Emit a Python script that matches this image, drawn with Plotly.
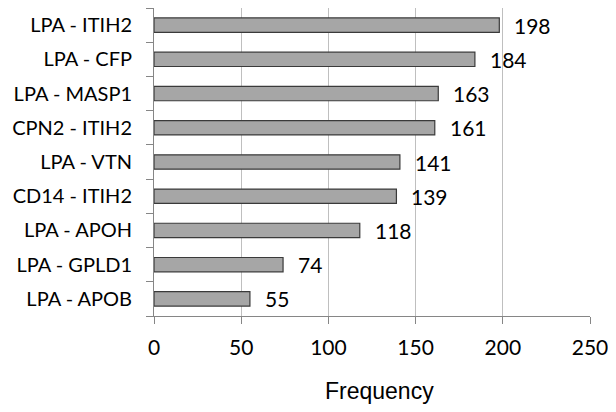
import plotly.graph_objects as go

pairs = ["LPA - ITIH2", "LPA - CFP", "LPA - MASP1", "CPN2 - ITIH2", "LPA - VTN",
         "CD14 - ITIH2", "LPA - APOH", "LPA - GPLD1", "LPA - APOB"]
frequency = [198, 184, 163, 161, 141, 139, 118, 74, 55]
x_ticks = [0, 50, 100, 150, 200, 250]

FONT = "Lato, 'Open Sans', sans-serif"

fig = go.Figure()
fig.add_trace(go.Bar(
    y=pairs, x=frequency, orientation="h",
    marker=dict(color="#a6a6a6", line=dict(color="#3a3a3a", width=1.2)),
    width=0.42, showlegend=False,
))
for p, v in zip(pairs, frequency):
    fig.add_annotation(x=v, y=p, text=str(v), showarrow=False, xanchor="left",
                       xshift=13, yshift=0, font=dict(family=FONT, size=21, color="#000"))

fig.add_annotation(x=0.518, y=-0.245, xref="paper", yref="paper", text="Frequency",
                   showarrow=False, xanchor="center", yanchor="middle",
                   font=dict(family="'Liberation Sans', Arial", size=23, color="#000"))

fig.update_layout(
    width=608, height=404,
    margin=dict(l=146, r=26, t=0, b=96),
    paper_bgcolor="white", plot_bgcolor="white",
    font=dict(family=FONT, size=21, color="#000"),
    xaxis=dict(range=[0, 250], tickvals=x_ticks, showgrid=True, gridcolor="#bfbfbf",
               gridwidth=1, zeroline=False, showline=True, linecolor="#868686",
               ticks="outside", ticklen=7, tickcolor="#868686", automargin=False,
               ticklabelstandoff=6, tickfont=dict(family=FONT, size=21)),
    yaxis=dict(categoryorder="array", categoryarray=pairs[::-1], showline=True,
               linecolor="#868686", ticks="outside", ticklen=7, tickcolor="#868686",
               tickson="boundaries", showgrid=False, zeroline=False, automargin=False,
               ticklabelstandoff=17, tickfont=dict(family=FONT, size=20)),
    bargap=0.58,
)
fig.write_html("out.html")
